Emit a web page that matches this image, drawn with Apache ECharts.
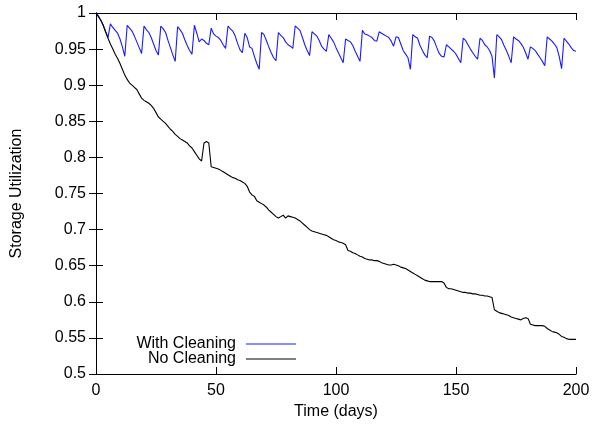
<!DOCTYPE html>
<html>
<head>
<meta charset="utf-8">
<script src="https://cdn.jsdelivr.net/npm/echarts@6/dist/echarts.min.js"></script>
<style>html,body{margin:0;padding:0;background:#fff;}#c{width:593px;height:425px;}</style>
</head>
<body>
<div id="c"></div>
<script>
var xTicks = [0, 50, 100, 150, 200];
var yTicks = [0.5, 0.55, 0.6, 0.65, 0.7, 0.75, 0.8, 0.85, 0.9, 0.95, 1];
var seriesNames = ['With Cleaning', 'No Cleaning'];

var withCleaning = [
1.000,0.996,0.990,0.983,0.974,0.966,0.985,0.980,0.976,0.972,
0.964,0.953,0.940,0.983,0.979,0.975,0.968,0.960,0.952,0.944,
0.982,0.977,0.973,0.966,0.957,0.948,0.942,0.982,0.978,0.973,
0.962,0.952,0.942,0.933,0.981,0.977,0.972,0.963,0.955,0.948,
0.943,0.983,0.972,0.960,0.964,0.962,0.958,0.956,0.979,0.971,
0.968,0.966,0.962,0.956,0.951,0.982,0.978,0.975,0.968,0.958,
0.949,0.945,0.972,0.966,0.953,0.951,0.940,0.930,0.922,0.973,
0.970,0.962,0.953,0.945,0.938,0.934,0.973,0.969,0.966,0.960,
0.956,0.954,0.951,0.982,0.979,0.976,0.966,0.956,0.948,0.941,
0.974,0.971,0.968,0.962,0.954,0.950,0.947,0.970,0.965,0.960,
0.952,0.945,0.938,0.931,0.964,0.962,0.960,0.955,0.947,0.940,
0.933,0.976,0.971,0.970,0.968,0.966,0.962,0.961,0.974,0.972,
0.970,0.968,0.966,0.961,0.954,0.967,0.966,0.957,0.948,0.943,
0.938,0.922,0.970,0.967,0.965,0.955,0.948,0.942,0.938,0.968,
0.966,0.961,0.952,0.944,0.940,0.939,0.956,0.953,0.950,0.947,
0.943,0.937,0.931,0.965,0.962,0.956,0.950,0.945,0.940,0.936,
0.965,0.962,0.956,0.953,0.948,0.940,0.910,0.970,0.967,0.963,
0.955,0.948,0.940,0.931,0.967,0.964,0.962,0.958,0.953,0.945,
0.936,0.953,0.951,0.948,0.943,0.938,0.933,0.927,0.967,0.964,
0.961,0.957,0.952,0.940,0.923,0.965,0.961,0.957,0.952,0.948,
0.947
];

var noCleaning = [
1.000,0.995,0.990,0.983,0.974,0.965,0.957,0.950,0.943,0.937,
0.930,0.922,0.914,0.908,0.903,0.900,0.897,0.894,0.888,0.882,
0.879,0.877,0.875,0.872,0.868,0.862,0.856,0.853,0.850,0.847,
0.843,0.839,0.836,0.832,0.829,0.826,0.824,0.822,0.820,0.816,
0.813,0.808,0.803,0.798,0.795,0.820,0.822,0.820,0.787,0.786,
0.785,0.784,0.782,0.780,0.778,0.776,0.774,0.772,0.771,0.769,
0.768,0.766,0.764,0.760,0.752,0.748,0.746,0.740,0.738,0.736,
0.734,0.731,0.727,0.724,0.721,0.718,0.716,0.718,0.720,0.716,
0.719,0.718,0.717,0.716,0.714,0.712,0.709,0.706,0.703,0.700,
0.698,0.697,0.696,0.695,0.694,0.693,0.692,0.690,0.688,0.686,
0.685,0.683,0.682,0.681,0.679,0.671,0.670,0.668,0.667,0.665,
0.663,0.662,0.660,0.659,0.658,0.658,0.657,0.657,0.656,0.654,
0.653,0.652,0.651,0.651,0.652,0.651,0.650,0.648,0.647,0.646,
0.644,0.642,0.640,0.638,0.636,0.634,0.632,0.630,0.629,0.628,
0.628,0.628,0.628,0.628,0.628,0.626,0.620,0.618,0.618,0.617,
0.616,0.615,0.614,0.613,0.613,0.612,0.612,0.611,0.611,0.610,
0.609,0.609,0.608,0.608,0.607,0.606,0.589,0.587,0.585,0.584,
0.583,0.582,0.581,0.579,0.578,0.577,0.576,0.575,0.577,0.578,
0.577,0.569,0.568,0.567,0.567,0.567,0.567,0.566,0.563,0.561,
0.559,0.558,0.557,0.555,0.552,0.551,0.549,0.548,0.548,0.548,
0.548
];

function pairs(arr) { return arr.map(function (v, i) { return [i, v]; }); }

var FONT = 'Liberation Sans, Arial, sans-serif';
var chart = echarts.init(document.getElementById('c'), null, {renderer: 'canvas'});

var tickStyle = {show: true, inside: true, length: 7, lineStyle: {color: '#000', width: 1}};
var lineStyle = {show: true, lineStyle: {color: '#000', width: 1}};

var option = {
  animation: false,
  backgroundColor: '#fff',
  grid: {left: 96, right: 17, top: 13, bottom: 51, containLabel: false},
  xAxis: [{
    type: 'value', min: xTicks[0], max: xTicks[xTicks.length - 1], interval: 50,
    name: 'Time (days)', nameLocation: 'middle', nameGap: 28,
    nameTextStyle: {fontFamily: FONT, fontSize: 16, color: '#000'},
    axisLine: lineStyle, axisTick: tickStyle, splitLine: {show: false},
    axisLabel: {fontFamily: FONT, fontSize: 16, color: '#000', margin: 9}
  }, {
    type: 'value', position: 'top', min: xTicks[0], max: xTicks[xTicks.length - 1], interval: 50,
    axisLine: lineStyle, axisTick: tickStyle, splitLine: {show: false}, axisLabel: {show: false}
  }],
  yAxis: [{
    type: 'value', min: yTicks[0], max: yTicks[yTicks.length - 1], interval: 0.05,
    name: 'Storage Utilization', nameLocation: 'middle', nameGap: 71, nameRotate: 90,
    nameTextStyle: {fontFamily: FONT, fontSize: 16, color: '#000'},
    axisLine: lineStyle, axisTick: tickStyle, splitLine: {show: false},
    axisLabel: {fontFamily: FONT, fontSize: 16, color: '#000', margin: 10,
      formatter: function (v) { return String(Number(v.toFixed(2))); }}
  }, {
    type: 'value', position: 'right', min: yTicks[0], max: yTicks[yTicks.length - 1], interval: 0.05,
    axisLine: lineStyle, axisTick: tickStyle, splitLine: {show: false}, axisLabel: {show: false}
  }],
  legend: [{
    data: [seriesNames[0]], right: 292, top: 331, align: 'right', orient: 'vertical',
    icon: 'rect', itemWidth: 50, itemHeight: 1.2,
    textStyle: {fontFamily: FONT, fontSize: 16, color: '#000', padding: [0, 5, 0, 0]}
  }, {
    data: [seriesNames[1]], right: 292, top: 346, align: 'right', orient: 'vertical',
    icon: 'rect', itemWidth: 50, itemHeight: 1.2,
    textStyle: {fontFamily: FONT, fontSize: 16, color: '#000', padding: [0, 5, 0, 0]}
  }],
  series: [{
    name: seriesNames[0], type: 'line', data: pairs(withCleaning),
    showSymbol: false, symbol: 'none', color: '#1a1aff',
    lineStyle: {color: '#1a1aff', width: 1.1}, z: 2
  }, {
    name: seriesNames[1], type: 'line', data: pairs(noCleaning),
    showSymbol: false, symbol: 'none', color: '#000',
    lineStyle: {color: '#000', width: 1.1}, z: 3
  }]
};
chart.setOption(option);
</script>
</body>
</html>
